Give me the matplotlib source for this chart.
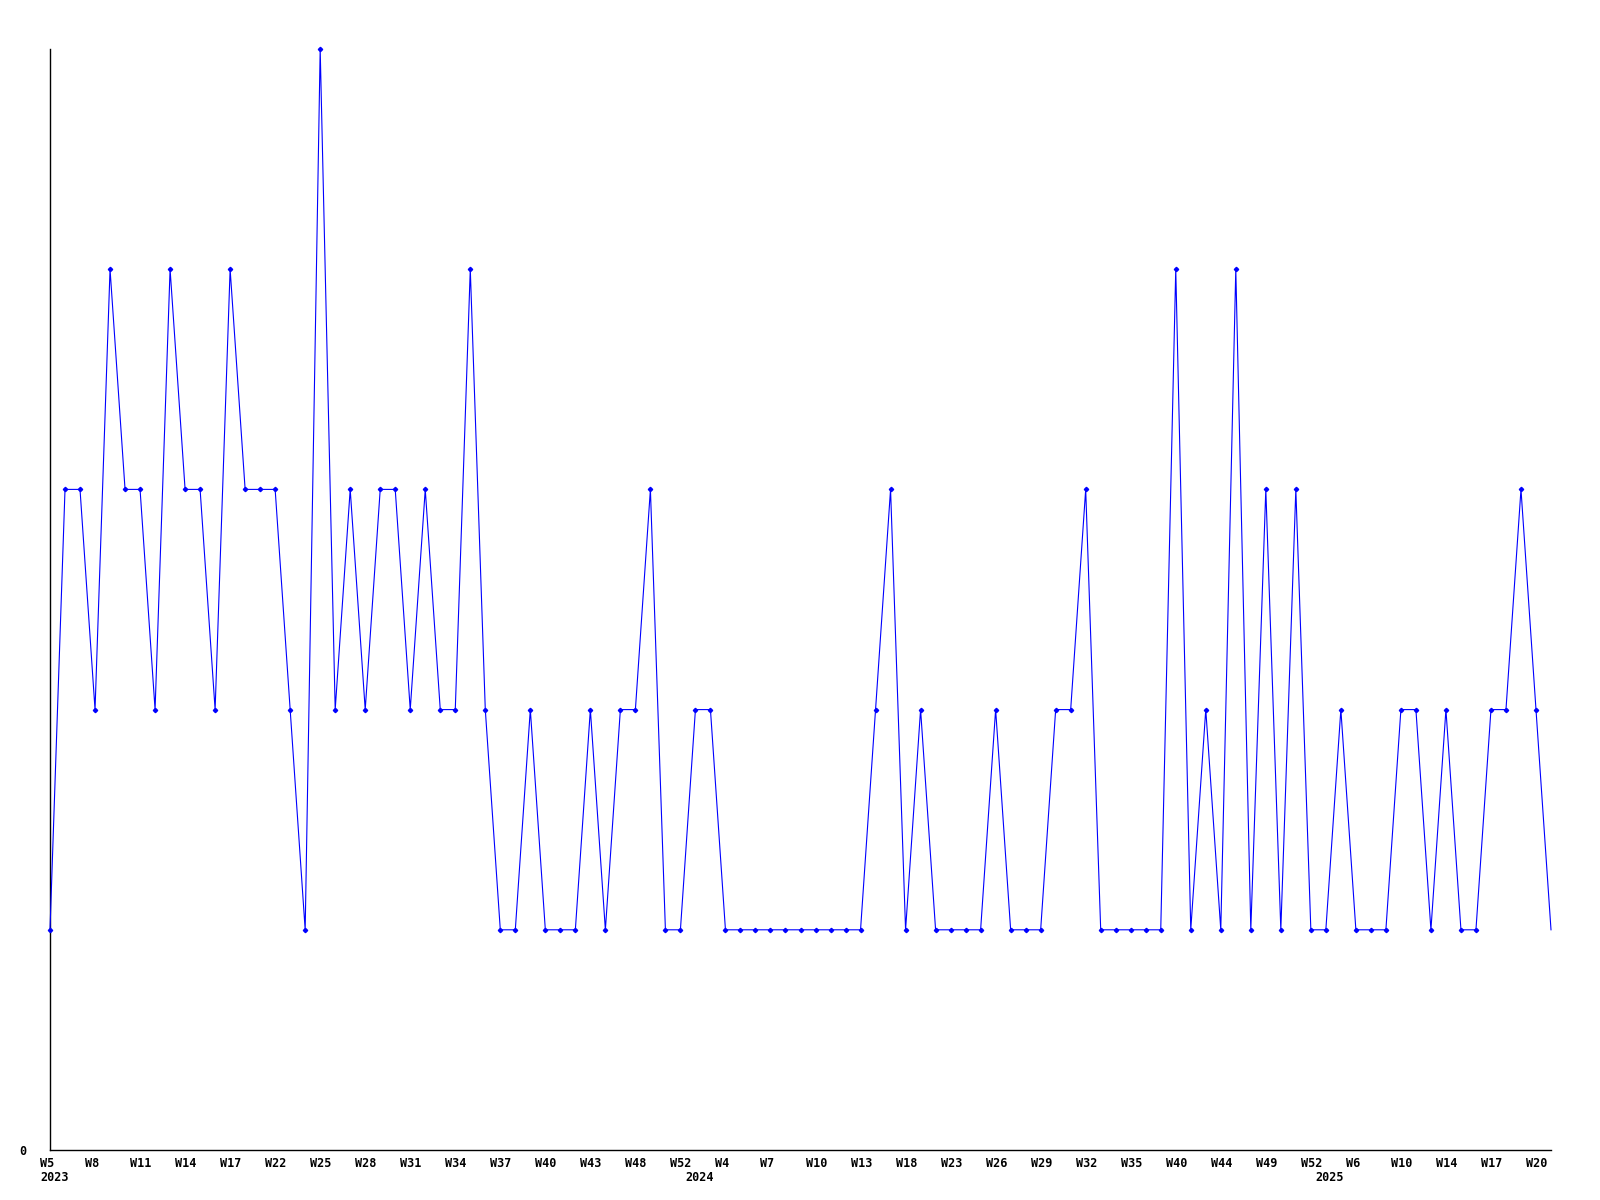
import matplotlib
matplotlib.use("Agg")
import matplotlib.pyplot as plt

# weekly values (101 consecutive reported weeks)
values = [1, 3, 3, 2, 4, 3, 3, 2, 4, 3,
          3, 2, 4, 3, 3, 3, 2, 1, 5, 2,
          3, 2, 3, 3, 2, 3, 2, 2, 4, 2,
          1, 1, 2, 1, 1, 1, 2, 1, 2, 2,
          3, 1, 1, 2, 2, 1, 1, 1, 1, 1,
          1, 1, 1, 1, 1, 2, 3, 1, 2, 1,
          1, 1, 1, 2, 1, 1, 1, 2, 2, 3,
          1, 1, 1, 1, 1, 4, 1, 2, 1, 4,
          1, 3, 1, 3, 1, 1, 2, 1, 1, 1,
          2, 2, 1, 2, 1, 1, 2, 2, 3, 2,
          1]

# tick labels, one every 3rd point
week_labels = ["W5", "W8", "W11", "W14", "W17", "W22", "W25", "W28", "W31",
               "W34", "W37", "W40", "W43", "W48", "W52", "W4", "W7", "W10",
               "W13", "W18", "W23", "W26", "W29", "W32", "W35", "W40", "W44",
               "W49", "W52", "W6", "W10", "W14", "W17", "W20"]
label_step = 3

# year labels and the point index where each year starts
year_labels = ["2023", "2024", "2025"]
year_index = [0, 43, 85]

x = list(range(len(values)))

fig = plt.figure(figsize=(16, 12), dpi=100)
ax = fig.add_axes([50 / 1600, 1 - 1150 / 1200, 1501 / 1600, 1101 / 1200])

ax.plot(x, values, color="#0000ff", linewidth=0.8, marker="D", markersize=2.2,
        markevery=list(range(len(values) - 1)), clip_on=False, zorder=3)

ax.set_xlim(0, len(values) - 1)
ax.set_ylim(0, 5)

for s in ["top", "right"]:
    ax.spines[s].set_visible(False)
for s in ["left", "bottom"]:
    ax.spines[s].set_linewidth(1.0)
    ax.spines[s].set_color("black")

ax.set_xticks([])
ax.set_yticks([0])
ax.set_yticklabels(["0"], fontfamily="DejaVu Sans Mono", fontweight="bold",
                   fontsize=8.5)
ax.tick_params(axis="y", length=0, pad=17)

font = dict(fontfamily="DejaVu Sans Mono", fontweight="bold", fontsize=8.5)
for k, lab in enumerate(week_labels):
    ax.annotate(lab, xy=(k * label_step, 0), xycoords=("data", "axes fraction"),
                xytext=(-10, -7), textcoords="offset pixels",
                ha="left", va="top", annotation_clip=False, **font)
for lab, idx in zip(year_labels, year_index):
    ax.annotate(lab, xy=(idx, 0), xycoords=("data", "axes fraction"),
                xytext=(-10, -21), textcoords="offset pixels",
                ha="left", va="top", annotation_clip=False, **font)

fig.savefig("out.png", dpi=100, facecolor="white")
